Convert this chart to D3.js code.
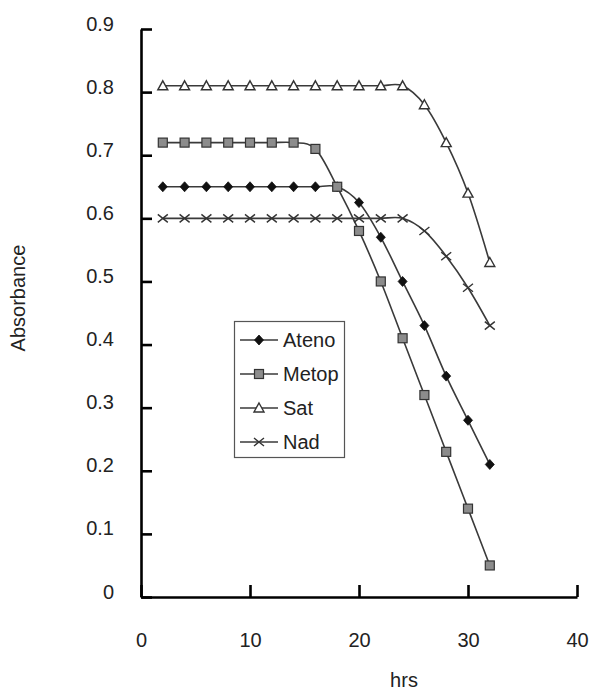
<!DOCTYPE html>
<html>
<head>
<meta charset="utf-8">
<script src="https://cdn.jsdelivr.net/npm/d3@7"></script>
<style>
  body { margin: 0; background: #fff; }
  svg { display: block; font-family: Arial, "Liberation Sans", sans-serif; }
</style>
</head>
<body>
<div id="chart"></div>
<script>
// Data
const hours = [2, 4, 6, 8, 10, 12, 14, 16, 18, 20, 22, 24, 26, 28, 30, 32];
const ateno = [0.65, 0.65, 0.65, 0.65, 0.65, 0.65, 0.65, 0.65, 0.65, 0.625, 0.57, 0.50, 0.43, 0.35, 0.28, 0.21];
const metop = [0.72, 0.72, 0.72, 0.72, 0.72, 0.72, 0.72, 0.71, 0.65, 0.58, 0.50, 0.41, 0.32, 0.23, 0.14, 0.05];
const sat = [0.81, 0.81, 0.81, 0.81, 0.81, 0.81, 0.81, 0.81, 0.81, 0.81, 0.81, 0.81, 0.78, 0.72, 0.64, 0.53];
const nad = [0.60, 0.60, 0.60, 0.60, 0.60, 0.60, 0.60, 0.60, 0.60, 0.60, 0.60, 0.60, 0.58, 0.54, 0.49, 0.43];
const seriesNames = ['Ateno', 'Metop', 'Sat', 'Nad'];
const xTicks = [0, 10, 20, 30, 40];
const yTicks = [0, 0.1, 0.2, 0.3, 0.4, 0.5, 0.6, 0.7, 0.8, 0.9];

const width = 591;
const height = 693;
const lineColor = '#3a3a3a';

const series = [
  { name: seriesNames[0], values: ateno, marker: 'diamond' },
  { name: seriesNames[1], values: metop, marker: 'square' },
  { name: seriesNames[2], values: sat, marker: 'triangle' },
  { name: seriesNames[3], values: nad, marker: 'cross' }
];

const x = d3.scaleLinear().domain([0, 40]).range([141, 577]);
const y = d3.scaleLinear().domain([0, 0.9]).range([597, 29]);

const svg = d3.select('#chart').append('svg')
  .attr('width', width)
  .attr('height', height);

// Marker drawing
const drawMarker = (sel, type) => {
  if (type === 'diamond') {
    sel.append('path')
      .attr('d', 'M0,-5L4.5,0L0,5L-4.5,0Z')
      .attr('fill', '#111')
      .attr('stroke', '#111')
      .attr('stroke-width', 0.8);
  } else if (type === 'square') {
    sel.append('rect')
      .attr('x', -4.5).attr('y', -4.5)
      .attr('width', 9).attr('height', 9)
      .attr('fill', '#8c8c8c')
      .attr('stroke', '#333')
      .attr('stroke-width', 1.2);
  } else if (type === 'triangle') {
    sel.append('path')
      .attr('d', 'M0,-5L5,4L-5,4Z')
      .attr('fill', '#fff')
      .attr('stroke', '#333')
      .attr('stroke-width', 1.4);
  } else {
    sel.append('path')
      .attr('d', 'M-5,-4L5,4M-5,4L5,-4')
      .attr('fill', 'none')
      .attr('stroke', '#333')
      .attr('stroke-width', 1.4);
  }
};

// Axes
const yAxis = d3.axisLeft(y)
  .tickValues(yTicks)
  .tickFormat(d => d === 0 ? '0' : d3.format('.1f')(d))
  .tickSizeInner(-11)
  .tickSizeOuter(0)
  .tickPadding(27);

const gy = svg.append('g')
  .attr('transform', `translate(${x(0)},0)`)
  .call(yAxis);

const xAxis = d3.axisBottom(x)
  .tickValues(xTicks)
  .tickSizeInner(-12)
  .tickSizeOuter(0);

const gx = svg.append('g')
  .attr('transform', `translate(0,${y(0)})`)
  .call(xAxis);

[gx, gy].forEach(g => {
  g.select('.domain').attr('stroke', '#000').attr('stroke-width', 2.6);
  g.selectAll('.tick line').attr('stroke', '#000').attr('stroke-width', 2.6);
  g.selectAll('.tick text')
    .attr('fill', '#222')
    .style('font-size', '20px')
    .style('font-family', 'Arial, "Liberation Sans", sans-serif');
});
gy.selectAll('.tick text').attr('dy', '0.05em');
gx.selectAll('.tick text').attr('y', 50).attr('dy', 0);

// Axis titles
svg.append('text')
  .attr('transform', 'translate(25,298) rotate(-90)')
  .attr('text-anchor', 'middle')
  .attr('fill', '#222')
  .style('font-size', '20px')
  .text('Absorbance');

svg.append('text')
  .attr('x', 404)
  .attr('y', 687)
  .attr('text-anchor', 'middle')
  .attr('fill', '#222')
  .style('font-size', '20px')
  .text('hrs');

// Lines and markers
const line = d3.line()
  .x((d, i) => x(hours[i]))
  .y(d => y(d))
  .curve(d3.curveCatmullRom.alpha(0));

series.forEach(s => {
  const g = svg.append('g').attr('class', 'series');
  g.append('path')
    .datum(s.values)
    .attr('d', line)
    .attr('fill', 'none')
    .attr('stroke', lineColor)
    .attr('stroke-width', 1.6);

  g.selectAll('.pt')
    .data(s.values)
    .enter()
    .append('g')
    .attr('class', 'pt')
    .attr('transform', (d, i) => `translate(${x(hours[i])},${y(d)})`)
    .each(function () { drawMarker(d3.select(this), s.marker); });
});

// Legend
const legend = svg.append('g').attr('class', 'legend');
legend.append('rect')
  .attr('x', 234.5).attr('y', 321.5)
  .attr('width', 110).attr('height', 136)
  .attr('fill', '#fff')
  .attr('stroke', '#555')
  .attr('stroke-width', 1.2);

const items = legend.selectAll('.item')
  .data(series)
  .enter()
  .append('g')
  .attr('class', 'item')
  .attr('transform', (d, i) => `translate(0,${340 + i * 34})`);

items.append('line')
  .attr('x1', 240).attr('x2', 278)
  .attr('stroke', lineColor)
  .attr('stroke-width', 1.6);

items.append('g')
  .attr('transform', 'translate(259,0)')
  .each(function (d) { drawMarker(d3.select(this), d.marker); });

items.append('text')
  .attr('x', 283)
  .attr('dy', '0.35em')
  .attr('fill', '#222')
  .style('font-size', '20px')
  .text(d => d.name);
</script>
</body>
</html>
